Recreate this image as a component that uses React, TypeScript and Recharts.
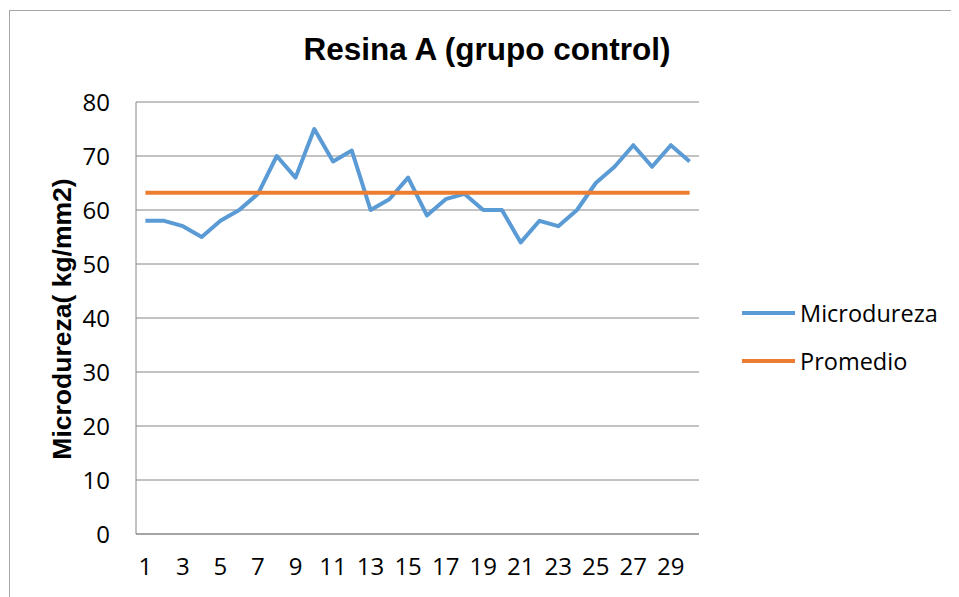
import React from 'react';
import { LineChart, Line, XAxis, YAxis, CartesianGrid, Legend } from 'recharts';

const muestras = [
  '1', '2', '3', '4', '5', '6', '7', '8', '9', '10',
  '11', '12', '13', '14', '15', '16', '17', '18', '19', '20',
  '21', '22', '23', '24', '25', '26', '27', '28', '29', '30',
];

const microdureza = [
  58, 58, 57, 55, 58, 60, 63, 70, 66, 75,
  69, 71, 60, 62, 66, 59, 62, 63, 60, 60,
  54, 58, 57, 60, 65, 68, 72, 68, 72, 69,
];

const promedio = [
  63.2, 63.2, 63.2, 63.2, 63.2, 63.2, 63.2, 63.2, 63.2, 63.2,
  63.2, 63.2, 63.2, 63.2, 63.2, 63.2, 63.2, 63.2, 63.2, 63.2,
  63.2, 63.2, 63.2, 63.2, 63.2, 63.2, 63.2, 63.2, 63.2, 63.2,
];

const yTicks = [0, 10, 20, 30, 40, 50, 60, 70, 80];

const data = muestras.map((m, i) => ({
  muestra: m,
  Microdureza: microdureza[i],
  Promedio: promedio[i],
}));

const FONT = '"Open Sans", sans-serif';
const GRID = '#868686';

const renderLegend = (props: any) => {
  const { payload } = props;
  return (
    <div style={{ fontFamily: FONT, fontSize: 23.5, color: '#000' }}>
      {payload.map((entry: any) => (
        <div key={entry.value} style={{ display: 'flex', alignItems: 'center', height: 48 }}>
          <svg width={58} height={10}>
            <line x1={0} y1={5} x2={53} y2={5} stroke={entry.color} strokeWidth={4} />
          </svg>
          <span>{entry.value}</span>
        </div>
      ))}
    </div>
  );
};

export default function App() {
  return (
    <div style={{ position: 'relative', width: 951, height: 589 }}>
      <div
        style={{
          position: 'absolute',
          left: 1,
          top: 2,
          right: 0,
          bottom: 0,
          borderTop: '1px solid #a6a6a6',
          borderLeft: '1px solid #a6a6a6',
        }}
      />
      <div
        style={{
          position: 'absolute',
          left: 0,
          top: 26,
          width: 958,
          textAlign: 'center',
          fontFamily: '"Liberation Sans", Arial, sans-serif',
          fontWeight: 'bold',
          fontSize: 31.5,
          lineHeight: '31px',
        }}
      >
        Resina A (grupo control)
      </div>
      <div style={{ position: 'absolute', left: 0, top: 0 }}>
        <LineChart
          width={951}
          height={589}
          data={data}
          margin={{ top: 94, right: 260, bottom: 23, left: 68 }}
        >
          <CartesianGrid vertical={false} stroke={GRID} strokeWidth={1} />
          <XAxis
            dataKey="muestra"
            scale="band"
            interval={1}
            height={40}
            tickLine={false}
            tickSize={0}
            tickMargin={24}
            stroke={GRID}
            tick={{ fill: '#000', fontSize: 24, fontFamily: FONT }}
          />
          <YAxis
            width={60}
            domain={[0, 80]}
            ticks={yTicks}
            tickLine={false}
            tickSize={0}
            tickMargin={26}
            stroke={GRID}
            tick={{ fill: '#000', fontSize: 24, fontFamily: FONT }}
            label={{
              content: () => (
                <text
                  x={54}
                  y={311}
                  transform="rotate(-90 54 311)"
                  textAnchor="middle"
                  dominantBaseline="central"
                  fontFamily='"Liberation Sans", Arial, sans-serif'
                  fontWeight="bold"
                  fontSize={26.5}
                  fill="#000"
                >
                  Microdureza( kg/mm2)
                </text>
              ),
            }}
          />
          <Legend
            layout="vertical"
            align="center"
            verticalAlign="middle"
            content={renderLegend}
            wrapperStyle={{ left: 734, top: 281, width: 200 }}
          />
          <Line
            type="linear"
            dataKey="Microdureza"
            stroke="#5b9bd5"
            strokeWidth={4}
            dot={false}
            strokeLinejoin="round"
            isAnimationActive={false}
          />
          <Line
            type="linear"
            dataKey="Promedio"
            stroke="#ed7d31"
            strokeWidth={4}
            dot={false}
            isAnimationActive={false}
          />
        </LineChart>
      </div>
    </div>
  );
}
